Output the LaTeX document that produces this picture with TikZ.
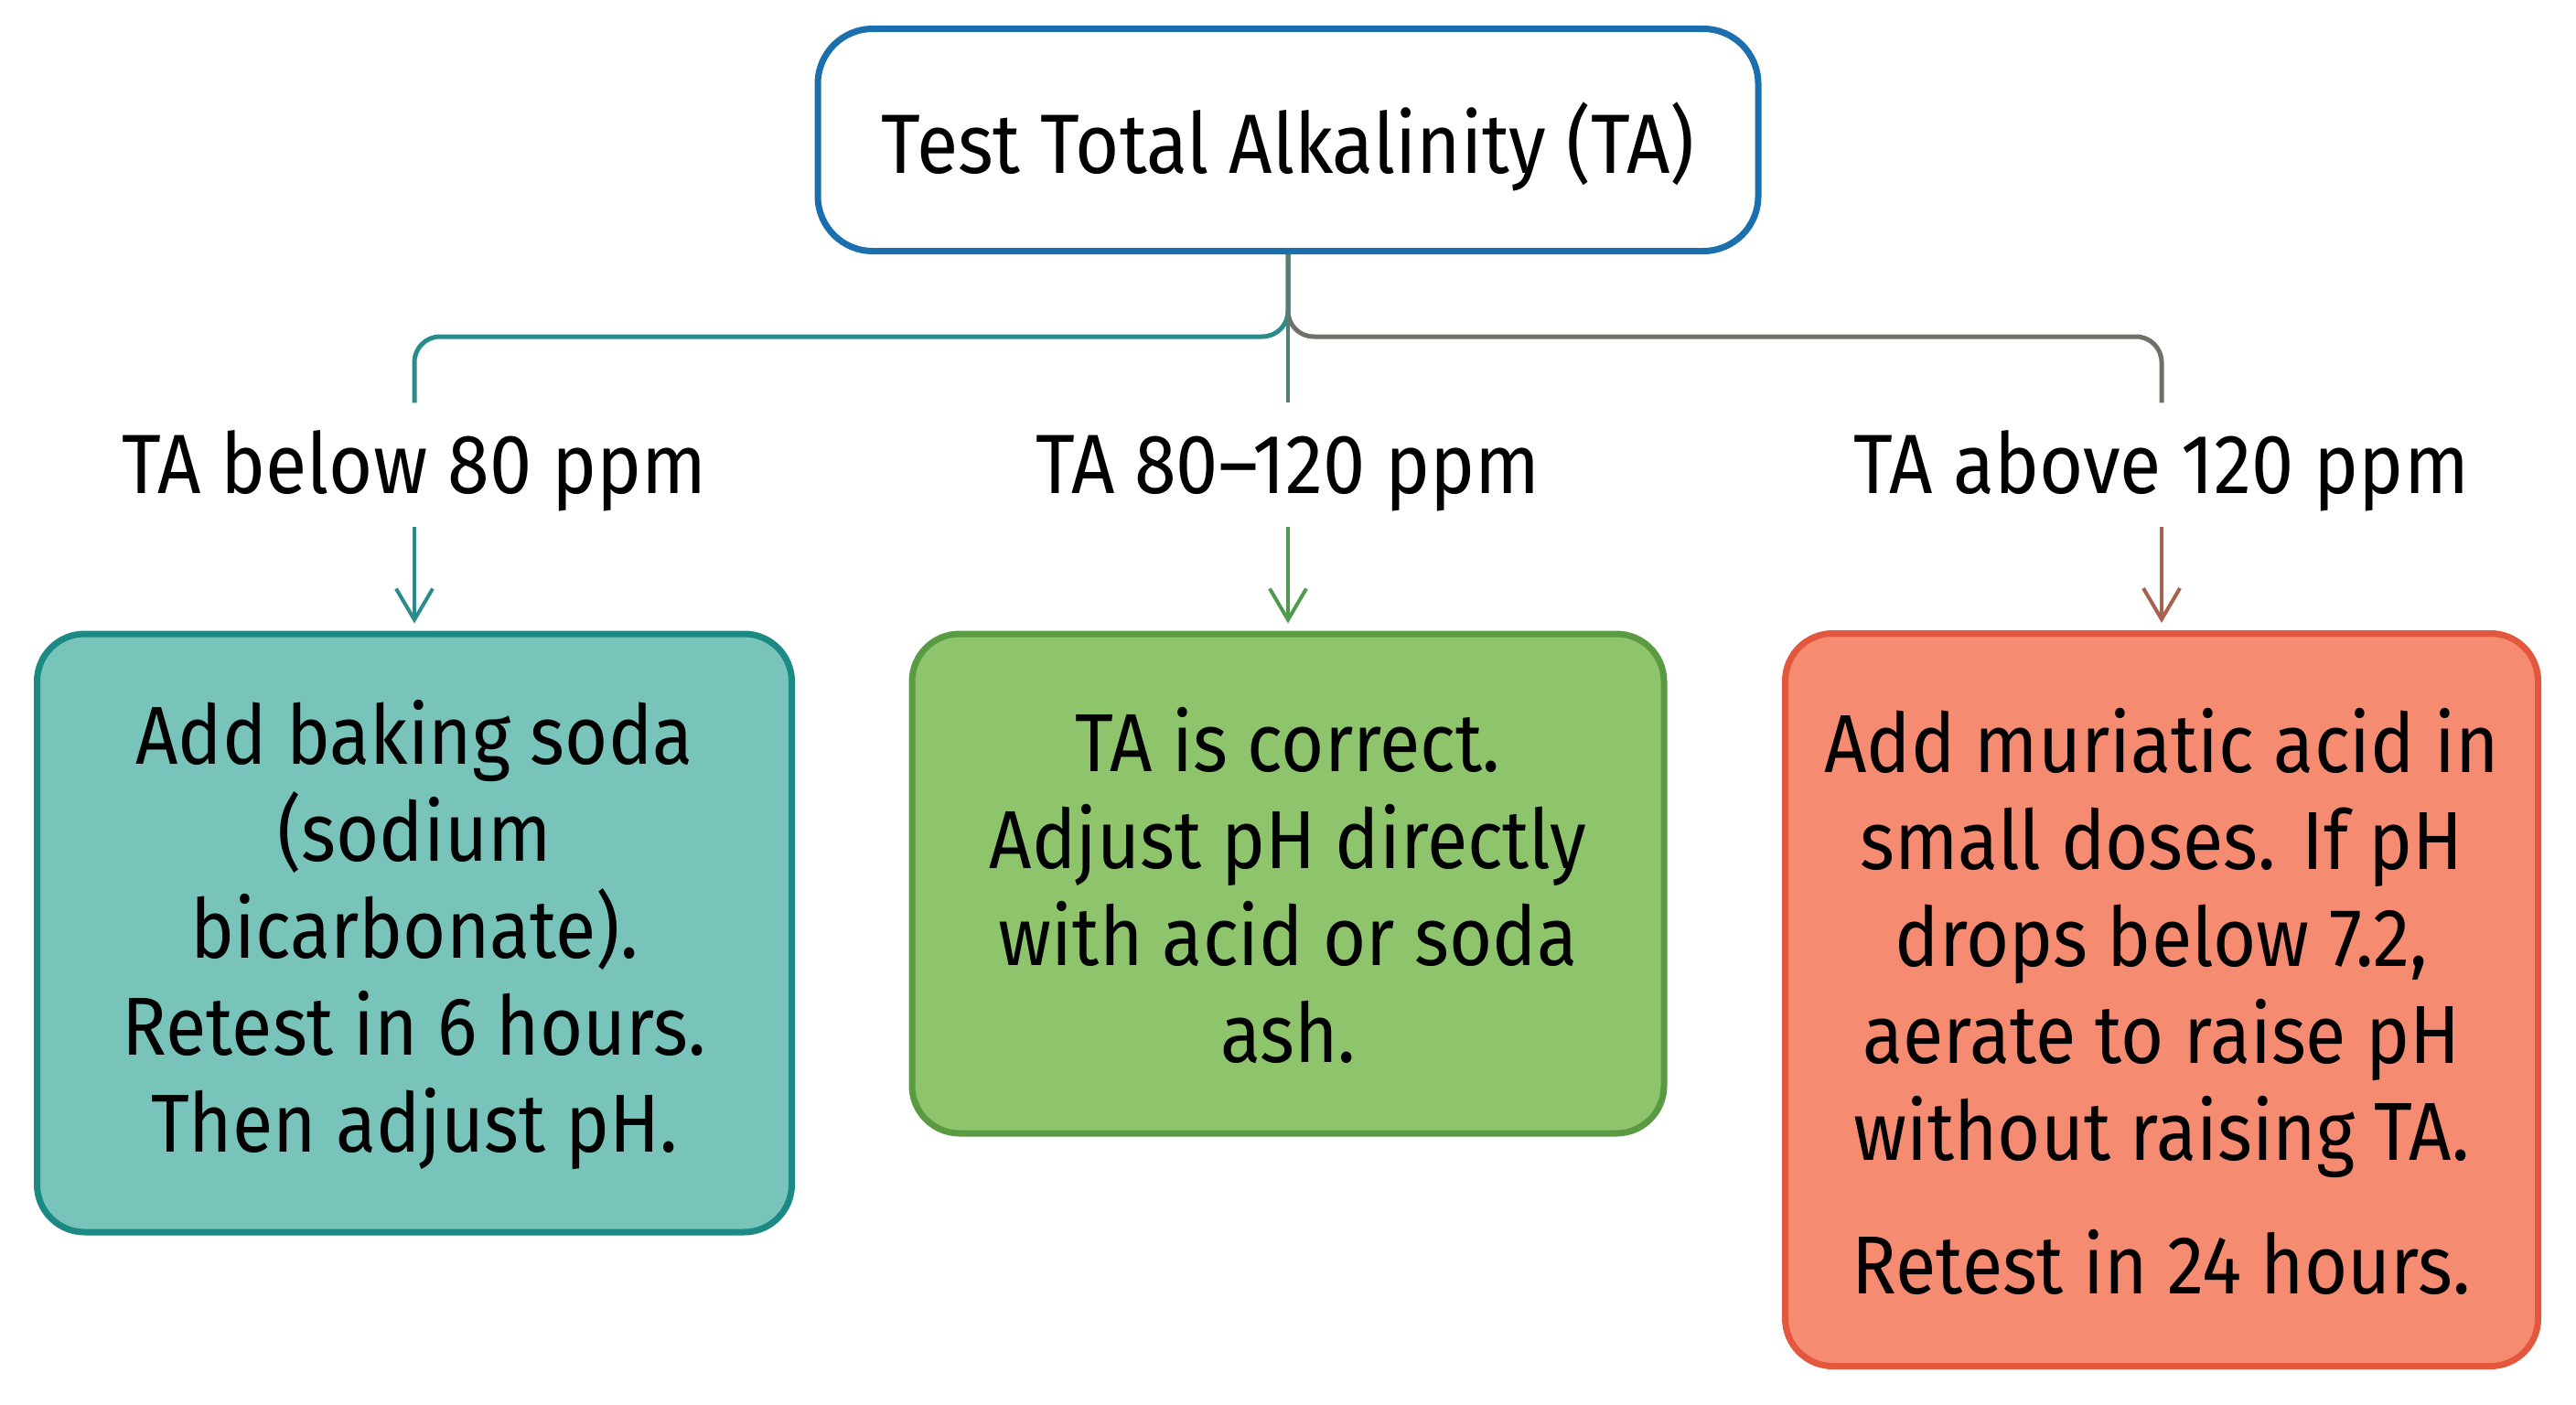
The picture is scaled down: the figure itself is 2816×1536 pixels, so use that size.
\documentclass[tikz,border=0pt]{standalone}
\usepackage{fontspec}
\setmainfont{Fira Sans}[FakeStretch=0.9]
\usetikzlibrary{arrows.meta}
\definecolor{topblue}{HTML}{1B6FAE}
\definecolor{tealline}{HTML}{2A8C8A}
\definecolor{tealfill}{HTML}{78C4BA}
\definecolor{tealdraw}{HTML}{1B8A84}
\definecolor{greenline}{HTML}{4F9A50}
\definecolor{greenfill}{HTML}{8DC46C}
\definecolor{greendraw}{HTML}{5A9A42}
\definecolor{redline}{HTML}{A8604F}
\definecolor{redfill}{HTML}{F58B71}
\definecolor{reddraw}{HTML}{E2573D}
\definecolor{grayline}{HTML}{707068}
\definecolor{midline}{HTML}{4F7F78}
\tikzset{
  topbox/.style={draw=topblue, line width=7pt, fill=white, rounded corners=60pt, inner sep=0pt,
    text height=72pt, text depth=0pt, font=\fontsize{92}{100}\selectfont},
  actbox/.style={line width=7pt, rounded corners=52pt, inner sep=0pt, align=center,
    font=\fontsize{90}{106}\selectfont},
  lab/.style={inner sep=0pt, minimum height=135pt, text height=62pt, text depth=0pt,
    font=\fontsize{92}{100}\selectfont},
  branch/.style={line width=5pt, rounded corners=28pt},
  arr/.style={line width=4pt, -{Straight Barb[length=34pt,width=40pt,line width=4pt]}, shorten >=8pt}
}
\begin{document}
\begin{tikzpicture}[x=1pt,y=-1pt]
\useasboundingbox (0,0) rectangle (2816,1536);
\fill[white] (0,0) rectangle (2816,1536);
\node[topbox, minimum width=1028pt, minimum height=243pt] (top) at (1408,153) {Test Total Alkalinity (TA)};

\node[lab] (l1) at (453,508) {TA below 80 ppm};
\node[lab] (l2) at (1408,508) {TA 80–120 ppm};
\node[lab] (l3) at (2363,508) {TA above 120 ppm};

\node[actbox, draw=tealdraw, fill=tealfill, minimum width=825pt, minimum height=654pt] (b1) at (453,1020)
  {\rule{0pt}{75pt}Add baking soda\\(sodium\\bicarbonate).\\Retest in 6 hours.\\Then adjust pH.};
\node[actbox, draw=greendraw, fill=greenfill, minimum width=822pt, minimum height=546pt] (b2) at (1408,966)
  {\rule{0pt}{75pt}TA is correct.\\Adjust pH directly\\with acid or soda\\ash.};
\node[actbox, draw=reddraw, fill=redfill, minimum width=823pt, minimum height=801pt] (b3) at (2363,1093)
  {\rule{0pt}{75pt}Add muriatic acid in\\small doses. If pH\\drops below 7.2,\\aerate to raise pH\\without raising TA.\\[40pt]Retest in 24 hours.};

\draw[branch, tealline] (top.south) |- (453,368) -- (l1.north);
\draw[branch, grayline] (top.south) |- (2363,368) -- (l3.north);
\draw[line width=4pt, midline] (top.south) -- (l2.north);

\draw[arr, tealline] (l1.south) -- (b1.north);
\draw[arr, greenline] (l2.south) -- (b2.north);
\draw[arr, redline] (l3.south) -- (b3.north);
\end{tikzpicture}
\end{document}
